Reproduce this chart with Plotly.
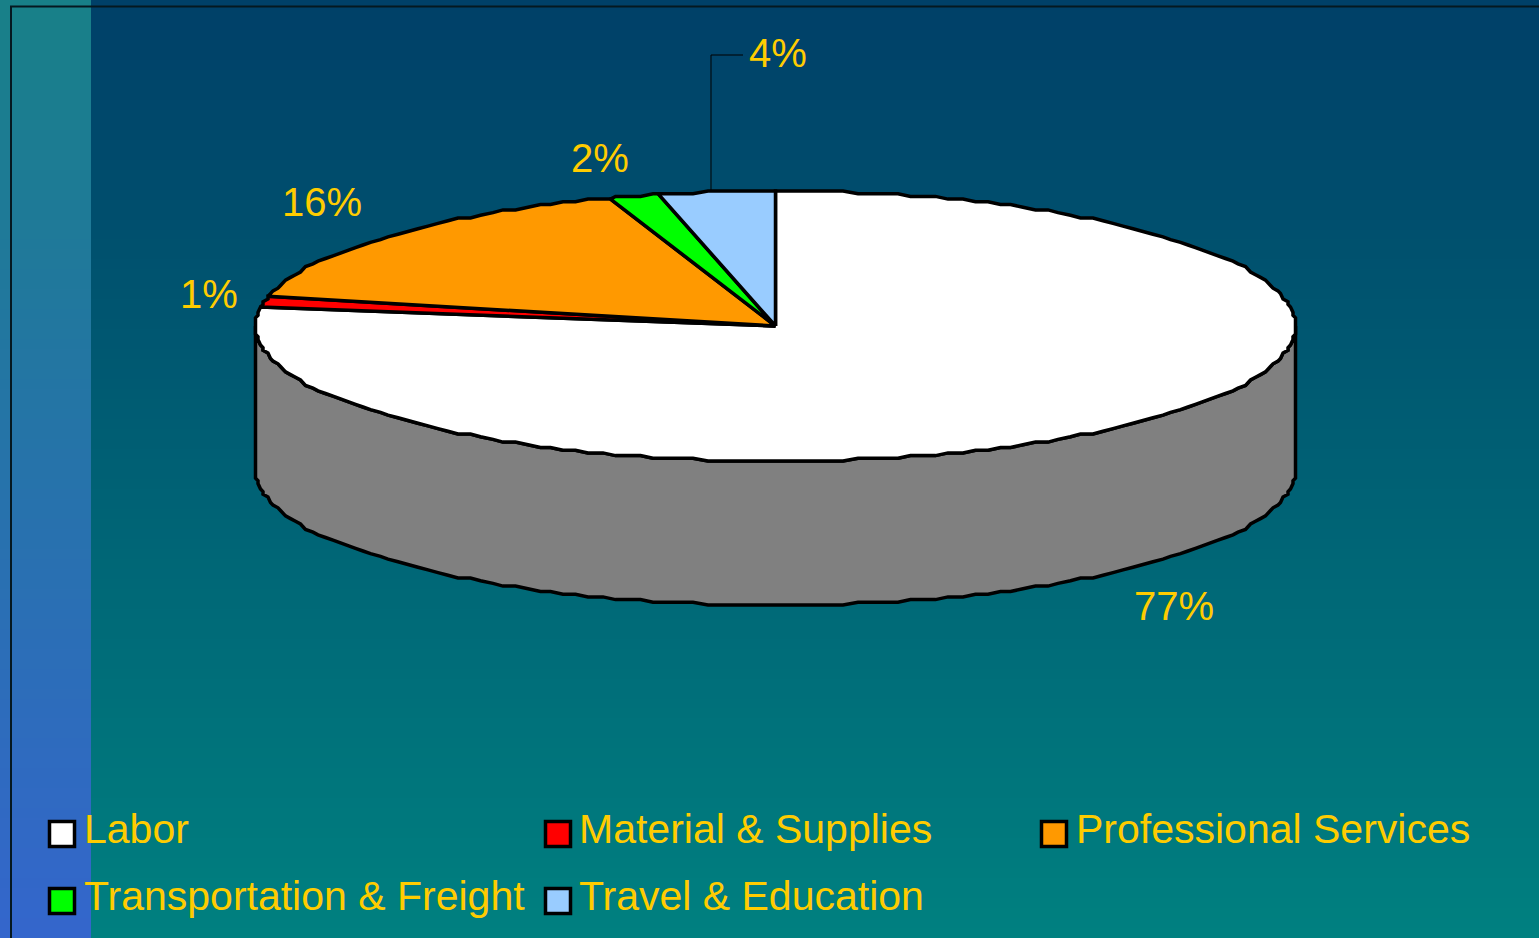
import numpy as np
import plotly.graph_objects as go

W, H = 1539, 938
categories = ["Labor", "Material & Supplies", "Professional Services", "Transportation & Freight", "Travel & Education"]
values = [77.3, 1.1, 16.5, 1.5, 3.6]
pct_labels = ["77%", "1%", "16%", "2%", "4%"]
colors = ["#FFFFFF", "#FF0000", "#FF9900", "#00FF00", "#99CCFF"]
label_pos = [(1174, 606), (209, 294), (322, 202), (600, 158), (778, 53)]
legend_marker = [(62, 834), (558, 834), (1054, 834), (62, 901), (558, 901)]
legend_text = [(85, 829), (580, 829), (1077, 829), (85, 896), (580, 896)]

CX, CY, RX, RY, DEPTH = 775.5, 326, 520, 135, 144
GRID_X, GRID_Y = 2.5, 2.7   # the outline is slightly stepped in the reference
GOLD = "#FFCC00"


def pt(angle):
    x = RX * np.sin(angle)
    y = -RY * np.cos(angle)
    return CX + np.round(x / GRID_X) * GRID_X, CY + np.round(y / GRID_Y) * GRID_Y


def gradient(x0, x1, top, bottom, name):
    n = 94
    ys = np.linspace(0, H, n + 1)
    z = np.linspace(0, 1, n).reshape(-1, 1)
    return go.Heatmap(x=[x0, x1], y=ys, z=z, zmin=0, zmax=1, showscale=False, hoverinfo="skip",
                      colorscale=[[0, top], [1, bottom]], name=name)


def arc(a0, a1, step=np.radians(1.5)):
    inner = np.arange(np.ceil(a0 / step), np.floor(a1 / step) + 1) * step
    return np.unique(np.r_[a0, inner, a1])


fig = go.Figure()
fig.add_trace(gradient(91, W, "rgb(0,64,104)", "rgb(0,128,128)", "bg"))
fig.add_trace(gradient(0, 91, "rgb(24,128,136)", "rgb(52,102,204)", "band"))

# frame lines
fig.add_trace(go.Scatter(x=[11, 11, W], y=[H, 6.5, 6.5], mode="lines", line=dict(color="#051820", width=2),
                         hoverinfo="skip", showlegend=False))

# pie wall
t = arc(np.pi / 2, 3 * np.pi / 2)
ex, ey = pt(t)
fig.add_trace(go.Scatter(x=np.r_[ex, ex[::-1], ex[0]], y=np.r_[ey, ey[::-1] + DEPTH, ey[0]], fill="toself",
                         fillcolor="#808080", mode="lines", line=dict(color="black", width=3.5, simplify=False),
                         hoverinfo="skip", showlegend=False))

# pie slices, clockwise from 12 o'clock
edges = np.cumsum([0] + values) / sum(values) * 2 * np.pi
for i, cat in enumerate(categories):
    x, y = pt(arc(edges[i], edges[i + 1]))
    fig.add_trace(go.Scatter(x=np.r_[CX, x, CX], y=np.r_[CY, y, CY], fill="toself", fillcolor=colors[i], mode="lines",
                             line=dict(color="black", width=3.5, simplify=False), name=cat, showlegend=False))

# leader line for the 4% label
fig.add_trace(go.Scatter(x=[711, 711, 743], y=[190, 55, 55], mode="lines", line=dict(color="black", width=1),
                         hoverinfo="skip", showlegend=False))

# legend swatches
for i, cat in enumerate(categories):
    fig.add_trace(go.Scatter(x=[legend_marker[i][0]], y=[legend_marker[i][1]], mode="markers", name=cat,
                             marker=dict(symbol="square", size=25, color=colors[i], line=dict(color="black", width=3.5)),
                             showlegend=False))

ann = []
for txt, (x, y) in zip(pct_labels, label_pos):
    ann.append(dict(x=x, y=y, text=txt, showarrow=False, xanchor="center", yanchor="middle",
                    font=dict(family="Liberation Sans", size=40, color=GOLD)))
for txt, (x, y) in zip(categories, legend_text):
    ann.append(dict(x=x - 3, y=y, text=txt.replace("&", "&amp;"), showarrow=False, xanchor="left", yanchor="middle",
                    font=dict(family="Liberation Sans", size=41, color=GOLD)))

axis = dict(visible=False, fixedrange=True)
fig.update_layout(width=W, height=H, margin=dict(l=0, r=0, t=0, b=0), paper_bgcolor="#004068", plot_bgcolor="#004068",
                  xaxis=dict(range=[0, W], **axis), yaxis=dict(range=[H, 0], **axis), annotations=ann, showlegend=False)
fig.write_html("out.html", config={"displayModeBar": False}, default_width=W, default_height=H,
               post_script="document.body.style.margin='0';")
